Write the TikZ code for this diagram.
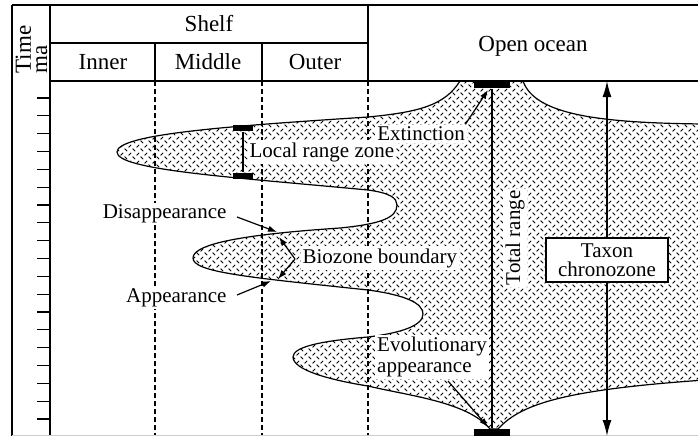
\documentclass[tikz,border=0pt]{standalone}
\usepackage{fontspec}
\setmainfont{Liberation Serif}
\usetikzlibrary{arrows.meta,patterns}

% short dashes on the two diagonals
\pgfdeclarepatternformonly{dashdiamond}{\pgfqpoint{-1pt}{-1pt}}{\pgfqpoint{5pt}{5pt}}{\pgfqpoint{4pt}{4pt}}{%
  \pgfsetlinewidth{0.4pt}%
  \pgfpathmoveto{\pgfqpoint{0.3pt}{0.3pt}}\pgfpathlineto{\pgfqpoint{1.6pt}{1.6pt}}%
  \pgfpathmoveto{\pgfqpoint{2.3pt}{3.7pt}}\pgfpathlineto{\pgfqpoint{3.6pt}{2.4pt}}%
  \pgfusepath{stroke}}

\tikzset{
  lbl/.style={fill=white, inner sep=1pt, font=\fontsize{10.5}{10.5}\selectfont},
  hdr/.style={font=\fontsize{11.5}{12}\selectfont},
  rangebar/.style={fill=black, inner sep=0pt, minimum width=18pt, minimum height=3.5pt},
  zonebar/.style={fill=black, inner sep=0pt, minimum width=10pt, minimum height=3pt},
  ptr/.style={-{Latex[length=4.5pt,width=3.2pt]}, line width=0.6pt},
  bigptr/.style={-{Latex[length=8pt,width=4.5pt]}, line width=0.7pt},
  zone/.style={dash pattern=on 2.5pt off 1.5pt, line width=0.6pt},
}

\begin{document}
\begin{tikzpicture}[x=0.5pt, y=-0.5pt, line width=0.6pt]
    \useasboundingbox (0,0) rectangle (698,436);
    \clip (0,0) rectangle (698,436);
    %% occurrence of the taxon
    \draw[pattern=dashdiamond] (460,81) .. controls (445,105) and (420,112) .. (368,117)
        .. controls (230,126) and (117,134) .. (117,152)
        .. controls (117,170) and (230,177) .. (368,190)
        .. controls (390,193) and (397,198) .. (397,205)
        .. controls (397,218) and (380,224) .. (340,228)
        .. controls (250,234) and (193,243) .. (193,258)
        .. controls (193,272) and (245,277) .. (368,290)
        .. controls (405,295) and (423,303) .. (423,314)
        .. controls (423,326) and (400,333) .. (368,337)
        .. controls (320,341) and (293,347) .. (293,357)
        .. controls (293,370) and (330,380) .. (368,386)
        .. controls (410,396) and (468,402) .. (490,429)
        -- (498,429)
        .. controls (520,405) and (560,390) .. (705,380)
        -- (705,124)
        .. controls (600,123) and (535,115) .. (523,81) -- cycle;
    %% zone boundaries
    \foreach \x in {155,262,368}
        \draw[zone] (\x,81) -- (\x,436);
    %% table head
    \draw[line width=1pt] (12,5) -- (12,436);
    \draw[line width=0.8pt] (12,5) -- (698,5);
    \draw (50,5) -- (50,436);
    \draw (50,43) -- (368,43);
    \draw (50,81) -- (698,81);
    \draw (368,5) -- (368,81);
    \draw (155,43) -- (155,81);
    \draw (262,43) -- (262,81);
    \draw[gray!40, line width=0.5pt] (12,435.5) -- (698,435.5);
    \foreach \i in {0,...,18}
        \draw (37,{98+17.83*\i}) -- (50,{98+17.83*\i});
    \node[hdr, rotate=90, anchor=base west, inner sep=0pt] (timelbl) at (31,74) {Time};
    \node[hdr, rotate=90, anchor=base west, inner sep=0pt] (malbl) at (47,74) {ma};
    \node[hdr] (shelf) at (209,24) {Shelf};
    \node[hdr] (inner) at (103,62) {Inner};
    \node[hdr] (middle) at (208,62) {Middle};
    \node[hdr] (outer) at (315,62) {Outer};
    \node[hdr] (ocean) at (533,46) {Open ocean};
    %% total range
    \node[rangebar] (topbar) at (492,84.5) {};
    \node[rangebar] (botbar) at (492,432.5) {};
    \draw[line width=0.7pt] (topbar.south) -- (botbar.north);
    \node[lbl, rotate=90] (totrange) at (515,238) {Total range};
    \node[lbl] (extinct) at (421,134) {Extinction};
    \draw[ptr] ([xshift=-1pt]extinct.north east) -- (488,90);
    \node[lbl, align=left] (evol) at (432,357) {Evolutionary\\appearance};
    \coordinate (evolTail) at (448,381);
    \coordinate (evolTip) at (488,427);
    \draw[ptr] (evolTail) -- (evolTip);
    %% local range zone
    \node[zonebar] (lzTop) at (243,128) {};
    \node[zonebar] (lzBot) at (243,176) {};
    \draw (lzTop) -- (lzBot);
    \node[lbl, anchor=west] (localzone) at (247,152) {Local range zone};
    %% biozone boundary
    \node[lbl, anchor=east] (disapp) at (229,214) {Disappearance};
    \coordinate (disTip) at (277,232);
    \draw[ptr] ([xshift=4pt,yshift=-1.5pt]disapp.east) -- (disTip);
    \node[lbl, anchor=east] (appear) at (229,298) {Appearance};
    \coordinate (appTip) at (271,281);
    \draw[ptr] ([xshift=4pt,yshift=1.5pt]appear.east) -- (appTip);
    \node[lbl, anchor=west] (biozone) at (300,258) {Biozone boundary};
    \coordinate (bzFork) at (295,259);
    \draw[ptr] (bzFork) -- (279,237);
    \draw[ptr] (bzFork) -- (278,279);
    %% taxon chronozone
    \node[draw, fill=white, align=center, inner sep=1pt, minimum width=61pt, minimum height=22pt,
          font=\fontsize{10.5}{9.5}\selectfont] (taxon) at (607,260) {Taxon\\chronozone};
    \coordinate (taxTop) at (607,81);
    \coordinate (taxBot) at (607,436);
    \draw[bigptr] (taxon.north) -- (taxTop);
    \draw[bigptr] (taxon.south) -- (taxBot);
\end{tikzpicture}
\end{document}
